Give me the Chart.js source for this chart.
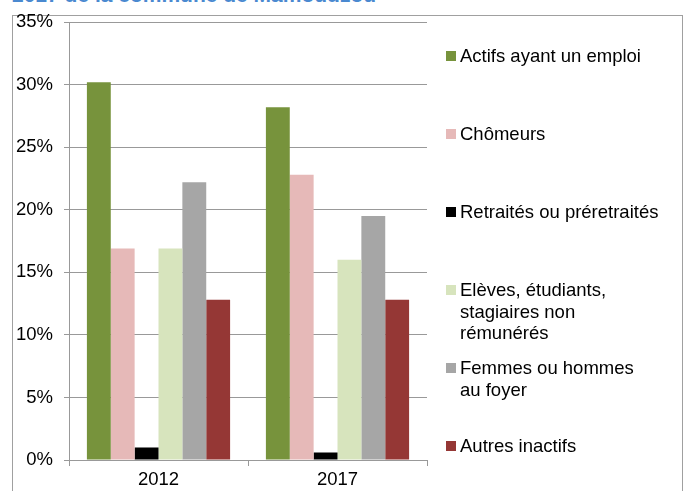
<!DOCTYPE html>
<html>
<head>
<meta charset="utf-8">
<script src="https://cdn.jsdelivr.net/npm/chart.js@4/dist/chart.umd.min.js"></script>
<style>
  body { margin: 0; background: #fff; }
  #wrap { position: relative; width: 694px; height: 491px; overflow: hidden; font-family: "Liberation Sans", Arial, sans-serif; }
  #frame { position: absolute; left: 12px; top: 15px; width: 669px; height: 500px; border: 1px solid #a0a0a0; }
  #title { position: absolute; left: 12px; top: -16px; font-size: 21px; line-height: 21px; font-weight: bold; color: #4a89d0; white-space: nowrap; }
  #chart { position: absolute; left: 0; top: 0; }
  .leg { position: absolute; left: 446px; font-size: 18.5px; line-height: 21.5px; color: #000; white-space: pre-line; }
  .leg span.box { position: absolute; left: 0; top: 6px; width: 10px; height: 10px; }
  .leg span.txt { display: block; margin-left: 14px; }
</style>
</head>
<body>
<div id="wrap">
  <div id="frame"></div>
  <div id="title">2017 de la commune de Mamoudzou</div>
  <canvas id="chart" width="694" height="491"></canvas>
  <div id="legend"></div>
</div>
<script>
// donnees (en %)
var annees = ['2012', '2017'];
var series = [
    'Actifs ayant un emploi',
    'Chômeurs',
    'Retraités ou préretraités',
    'Elèves, étudiants,\nstagiaires non\nrémunérés',
    'Femmes ou hommes\nau foyer',
    'Autres inactifs'
];
var actifs    = [30.2, 28.2];
var chomeurs  = [16.9, 22.8];
var retraites = [1.0, 0.6];
var eleves    = [16.9, 16.0];
var foyer     = [22.2, 19.5];
var autres    = [12.8, 12.8];
var couleurs = ['#77933c', '#e6b9b8', '#000000', '#d7e4bd', '#a6a6a6', '#953735'];
var valeurs = [actifs, chomeurs, retraites, eleves, foyer, autres];

Chart.defaults.font.family = '"Liberation Sans", Arial, sans-serif';
Chart.defaults.font.size = 18.5;
Chart.defaults.color = '#000';

var datasets = [];
for (var i = 0; i < series.length; i++) {
    datasets.push({
        label: series[i].replace(/\n/g, ' '),
        data: valeurs[i],
        backgroundColor: couleurs[i],
        borderWidth: 0,
        categoryPercentage: 0.8,
        barPercentage: 1
    });
}

var ctx = document.getElementById('chart').getContext('2d');
var chart = new Chart(ctx, {
    type: 'bar',
    data: {
        labels: annees,
        datasets: datasets
    },
    options: {
        responsive: false,
        animation: false,
        layout: { padding: { top: 16, right: 267, left: 0, bottom: 0 } },
        plugins: {
            legend: { display: false },
            tooltip: { enabled: false }
        },
        scales: {
            x: {
                grid: { offset: true, drawOnChartArea: false, color: '#999', tickLength: 6 },
                border: { color: '#999', width: 1 },
                ticks: { padding: 3 },
                afterFit: function (axis) { axis.height = 31; }
            },
            y: {
                min: 0,
                max: 35,
                ticks: {
                    stepSize: 5,
                    padding: 11,
                    callback: function (v) { return v + '%'; }
                },
                grid: { color: '#999', lineWidth: 1, tickLength: 5 },
                border: { color: '#999', width: 1 },
                afterFit: function (axis) { axis.width = 69; }
            }
        }
    }
});

// legende a droite
var leg = document.getElementById('legend');
for (var j = 0; j < series.length; j++) {
    var d = document.createElement('div');
    d.className = 'leg';
    d.style.top = (56 + j * 78 - 10.75) + 'px';
    d.innerHTML = '<span class="box" style="background:' + couleurs[j] + '"></span><span class="txt"></span>';
    d.querySelector('.txt').textContent = series[j];
    leg.appendChild(d);
}
</script>
</body>
</html>
